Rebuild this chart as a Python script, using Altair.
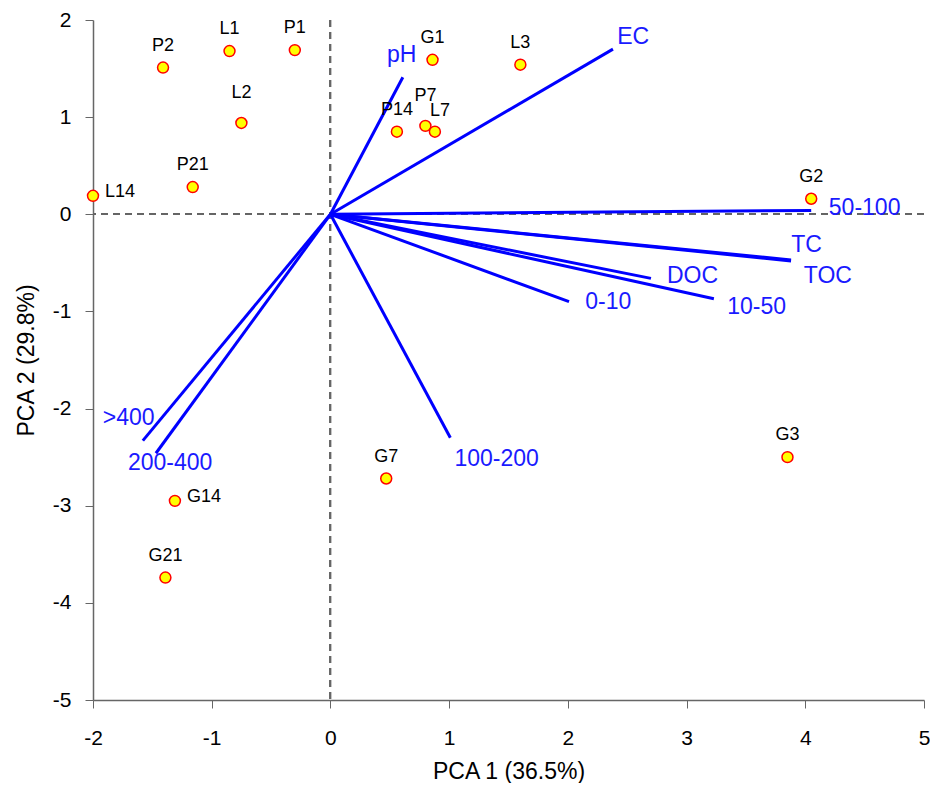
import altair as alt
import pandas as pd

# Sample scores
names = ["L14", "P2", "L1", "P1", "L2", "P21", "G1", "P14", "P7", "L7",
         "L3", "G2", "G3", "G7", "G14", "G21"]
pc1 = [-2.00, -1.41, -0.85, -0.30, -0.75, -1.16, 0.86, 0.56, 0.80, 0.88,
       1.60, 4.05, 3.85, 0.47, -1.31, -1.39]
pc2 = [0.19, 1.51, 1.68, 1.69, 0.94, 0.28, 1.59, 0.85, 0.91, 0.85,
       1.54, 0.16, -2.50, -2.72, -2.95, -3.74]

# Variable loadings (vector end points) and their label anchors
variables = ["pH", "EC", "50-100", "TC", "TOC", "DOC", "10-50", "0-10",
             ">400", "200-400", "100-200"]
load1 = [0.61, 2.38, 4.05, 3.88, 3.88, 2.70, 3.23, 2.01, -1.58, -1.47, 1.01]
load2 = [1.41, 1.70, 0.04, -0.47, -0.48, -0.66, -0.87, -0.90, -2.33, -2.46, -2.30]
label1 = [0.60, 2.55, 4.50, 4.01, 4.19, 3.05, 3.59, 2.34, -1.70, -1.35, 1.40]
label2 = [1.64, 1.83, 0.06, -0.32, -0.64, -0.64, -0.95, -0.90, -2.10, -2.56, -2.52]

x_ticks = [-2, -1, 0, 1, 2, 3, 4, 5]
y_ticks = [-5, -4, -3, -2, -1, 0, 1, 2]

right_labels = ["L14", "G14"]
high_labels = ["P7", "L2"]
shift_labels = ["L7"]

FONT = "Liberation Sans"
LABEL_EXPR = "datum.value < 0 ? '-' + format(-datum.value, 'd') : format(datum.value, 'd')"

scores = pd.DataFrame({"name": names, "pc1": pc1, "pc2": pc2})
loads = pd.DataFrame({"var": variables, "l1": load1, "l2": load2,
                      "t1": label1, "t2": label2,
                      "o1": [0.0] * len(variables), "o2": [0.0] * len(variables)})

xs = alt.Scale(domain=[-2, 5], nice=False, zero=False)
ys = alt.Scale(domain=[-5, 2], nice=False, zero=False)

x_axis = alt.Axis(values=x_ticks, title="PCA 1 (36.5%)", grid=False, labelExpr=LABEL_EXPR,
                  labelFontSize=21, titleFontSize=23, labelPadding=19,
                  titlePadding=12, tickSize=8, domainColor="#666666",
                  tickColor="#666666", domainWidth=1.5, labelColor="black",
                  titleColor="black", titleFontWeight="normal", labelFont=FONT,
                  titleFont=FONT, labelFlush=False)
y_axis = alt.Axis(values=y_ticks, title="PCA 2 (29.8%)", grid=False, labelExpr=LABEL_EXPR,
                  labelFontSize=21, titleFontSize=23, labelPadding=14,
                  titlePadding=14, tickSize=8, domainColor="#666666",
                  tickColor="#666666", domainWidth=1.5, labelColor="black",
                  titleColor="black", titleFontWeight="normal", labelFont=FONT,
                  titleFont=FONT, labelFlush=False)

base_pts = alt.Chart(scores)

vrule = alt.Chart(scores).mark_rule(color="#666666", strokeDash=[7, 5], strokeWidth=1.2).encode(
    x=alt.datum(0, scale=xs, axis=x_axis))
hrule = alt.Chart(scores).mark_rule(color="#666666", strokeDash=[7, 5], strokeWidth=1.2).encode(
    y=alt.datum(0, scale=ys, axis=y_axis))

vectors = alt.Chart(loads).mark_rule(color="#0000ff", strokeWidth=3).encode(
    x=alt.X("o1:Q", scale=xs, axis=x_axis),
    y=alt.Y("o2:Q", scale=ys, axis=y_axis),
    x2="l1:Q", y2="l2:Q")

vec_labels = alt.Chart(loads).mark_text(color="#1a1aff", fontSize=23, font=FONT,
                                        align="center", baseline="middle").encode(
    x=alt.X("t1:Q", scale=xs), y=alt.Y("t2:Q", scale=ys), text="var:N")

points = base_pts.mark_point(shape="circle", filled=True, fill="#ffff00", stroke="#ff0000",
                             strokeWidth=1.5, size=120, opacity=1).encode(
    x=alt.X("pc1:Q", scale=xs), y=alt.Y("pc2:Q", scale=ys))

above = [n for n in names if n not in right_labels + high_labels + shift_labels]

lab_above = base_pts.mark_text(fontSize=18, font=FONT, color="black", dy=-22,
                               align="center", baseline="middle").encode(
    x=alt.X("pc1:Q", scale=xs), y=alt.Y("pc2:Q", scale=ys), text="name:N"
).transform_filter(alt.FieldOneOfPredicate(field="name", oneOf=above))

lab_high = base_pts.mark_text(fontSize=18, font=FONT, color="black", dy=-30,
                              align="center", baseline="middle").encode(
    x=alt.X("pc1:Q", scale=xs), y=alt.Y("pc2:Q", scale=ys), text="name:N"
).transform_filter(alt.FieldOneOfPredicate(field="name", oneOf=high_labels))

lab_shift = base_pts.mark_text(fontSize=18, font=FONT, color="black", dy=-21, dx=5,
                               align="center", baseline="middle").encode(
    x=alt.X("pc1:Q", scale=xs), y=alt.Y("pc2:Q", scale=ys), text="name:N"
).transform_filter(alt.FieldOneOfPredicate(field="name", oneOf=shift_labels))

lab_right = base_pts.mark_text(fontSize=18, font=FONT, color="black", dy=-4, dx=12,
                               align="left", baseline="middle").encode(
    x=alt.X("pc1:Q", scale=xs), y=alt.Y("pc2:Q", scale=ys), text="name:N"
).transform_filter(alt.FieldOneOfPredicate(field="name", oneOf=right_labels))

chart = alt.layer(vrule, hrule, vectors, vec_labels, points,
                  lab_above, lab_high, lab_shift, lab_right).properties(
    width=831, height=680,
    autosize=alt.AutoSizeParams(type="none"),
    padding={"left": 85, "top": 12, "right": 6, "bottom": 83},
    background="white",
).configure_view(stroke=None)

chart.save("out.html", embed_options={"renderer": "svg", "actions": False})
